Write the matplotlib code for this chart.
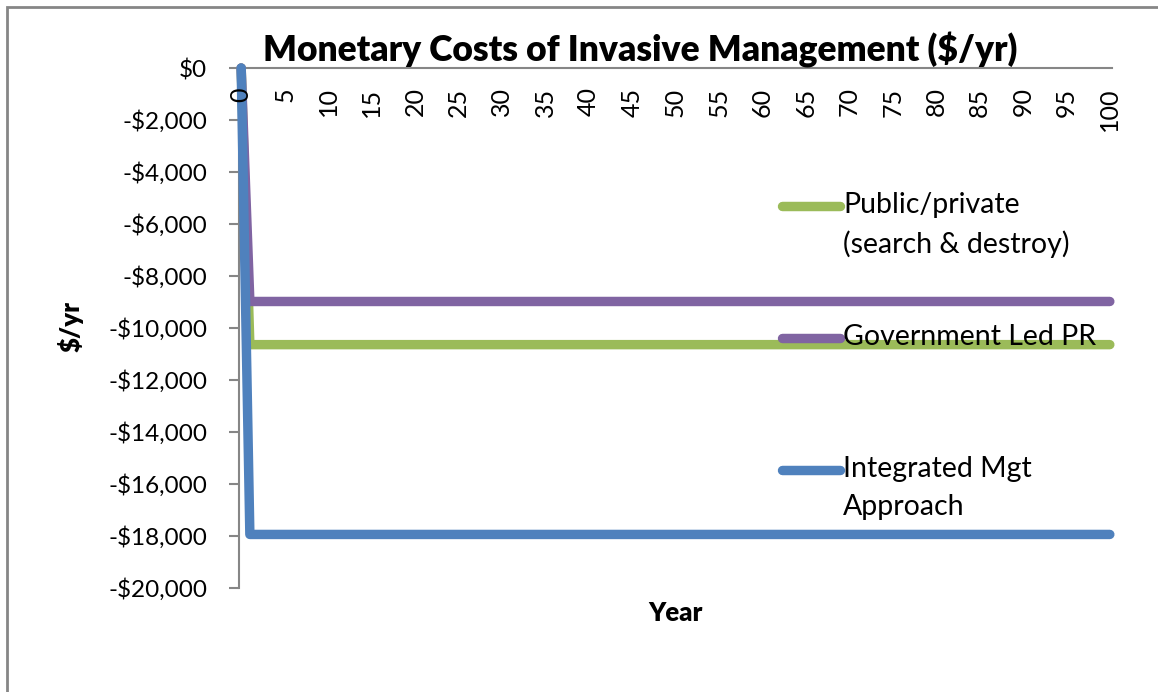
#! /usr/bin/env python3

import numpy as np
import matplotlib
matplotlib.use( 'Agg' )
import matplotlib.pyplot as plt
from   matplotlib.lines   import Line2D
from   matplotlib.patches import Rectangle
from   matplotlib.ticker  import FuncFormatter

#----------------------------------------------------------------------------
# Data ($/yr), year 0 then the steady value for 1..100
#----------------------------------------------------------------------------
years = list( range( 0, 101 ) )

series_names  = [ 'Public/private\n(search & destroy)',
                  'Government Led PR',
                  'Integrated Mgt\nApproach' ]
start_values  = [ 0, 0, 0 ]
steady_values = [ -10640, -8980, -17940 ]
colors        = [ '#9BBB59', '#8064A2', '#4F81BD' ]

public_private = [ start_values[0] ] + [ steady_values[0] ] * 100
government_led = [ start_values[1] ] + [ steady_values[1] ] * 100
integrated_mgt = [ start_values[2] ] + [ steady_values[2] ] * 100

y_ticks = list( range( -20000, 1, 2000 ) )
x_ticks = list( range( 0, 101, 5 ) )

#----------------------------------------------------------------------------
def money( v, pos ):
    v = int( round( v ) )
    if v < 0:
        return '-${:,}'.format( -v )
    return '${:,}'.format( v )

#----------------------------------------------------------------------------
def main():
    plt.rcParams['font.family'] = [ 'Lato', 'DejaVu Sans' ]

    W, H = 1158, 692
    fig = plt.figure( figsize = ( W / 100, H / 100 ), dpi = 100 )

    # plot area in pixels: left 239, right 1112, y=0 at 68, y=-20000 at 588
    ax = fig.add_axes( [ 239 / W, 1 - 588 / H, ( 1112 - 239 ) / W,
                         ( 588 - 68 ) / H ] )

    all_series = [ public_private, government_led, integrated_mgt ]
    for i, ( vals, c ) in enumerate( zip( all_series, colors ) ):
        ax.plot( years, vals, color = c, lw = 6.8, clip_on = False,
                 solid_capstyle = 'round', solid_joinstyle = 'round',
                 zorder = 2 + 0.1 * i )

    ax.set_xlim( -0.25, 100.25 )
    ax.set_ylim( -20000, 0 )

    ax.spines['right'].set_visible( False )
    ax.spines['top'].set_visible( False )
    ax.spines['bottom'].set_position( ( 'data', 0 ) )
    for s in [ 'left', 'bottom' ]:
        ax.spines[s].set_color( '#868686' )
        ax.spines[s].set_linewidth( 1.5 )
        ax.spines[s].set_zorder( 1 )

    ax.set_yticks( y_ticks )
    ax.yaxis.set_major_formatter( FuncFormatter( money ) )
    ax.tick_params( axis = 'y', direction = 'out', length = 7, width = 1.5,
                    color = '#868686', pad = 16, labelsize = 17.5 )

    ax.set_xticks( x_ticks )
    ax.set_xticklabels( [ str(x) for x in x_ticks ], rotation = 90 )
    ax.tick_params( axis = 'x', length = 0, pad = 14, labelsize = 18 )
    ax.xaxis.set_zorder( 3 )

    # legend (Excel places the entries spread down the right side)
    leg_y = [ 0.7346, 0.4808, 0.2269 ]
    for name, c, yy in zip( series_names, colors, leg_y ):
        ax.add_line( Line2D( [ 0.622, 0.688 ], [ yy, yy ],
                             transform = ax.transAxes, color = c, lw = 6.8,
                             solid_capstyle = 'round', clip_on = False,
                             zorder = 6 ) )
        ax.text( 0.692, yy + 0.027, name, transform = ax.transAxes,
                 ha = 'left', va = 'top', fontsize = 20.5, linespacing = 1.55,
                 zorder = 7 )

    fig.text( 640 / W, 1 - 50 / H,
              'Monetary Costs of Invasive Management ($/yr)',
              ha = 'center', va = 'center', fontsize = 25.5,
              fontweight = 'heavy' )
    fig.text( 675 / W, 1 - 613 / H, 'Year', ha = 'center', va = 'center',
              fontsize = 18.5, fontweight = 'heavy' )
    fig.text( 70 / W, 1 - 326 / H, '$/yr', ha = 'center', va = 'center',
              rotation = 90, fontsize = 18.5, fontweight = 'heavy' )

    # chart area border (only left and top edges show in the crop)
    fig.add_artist( Rectangle( ( 7 / W, -0.5 ), 2.0, 1.5 - 7 / H,
                               transform = fig.transFigure, fill = False,
                               ec = '#868686', lw = 2 ) )

    fig.savefig( 'out.png', dpi = 100 )

#----------------------------------------------------------------------------
if __name__ == "__main__":
    main()
